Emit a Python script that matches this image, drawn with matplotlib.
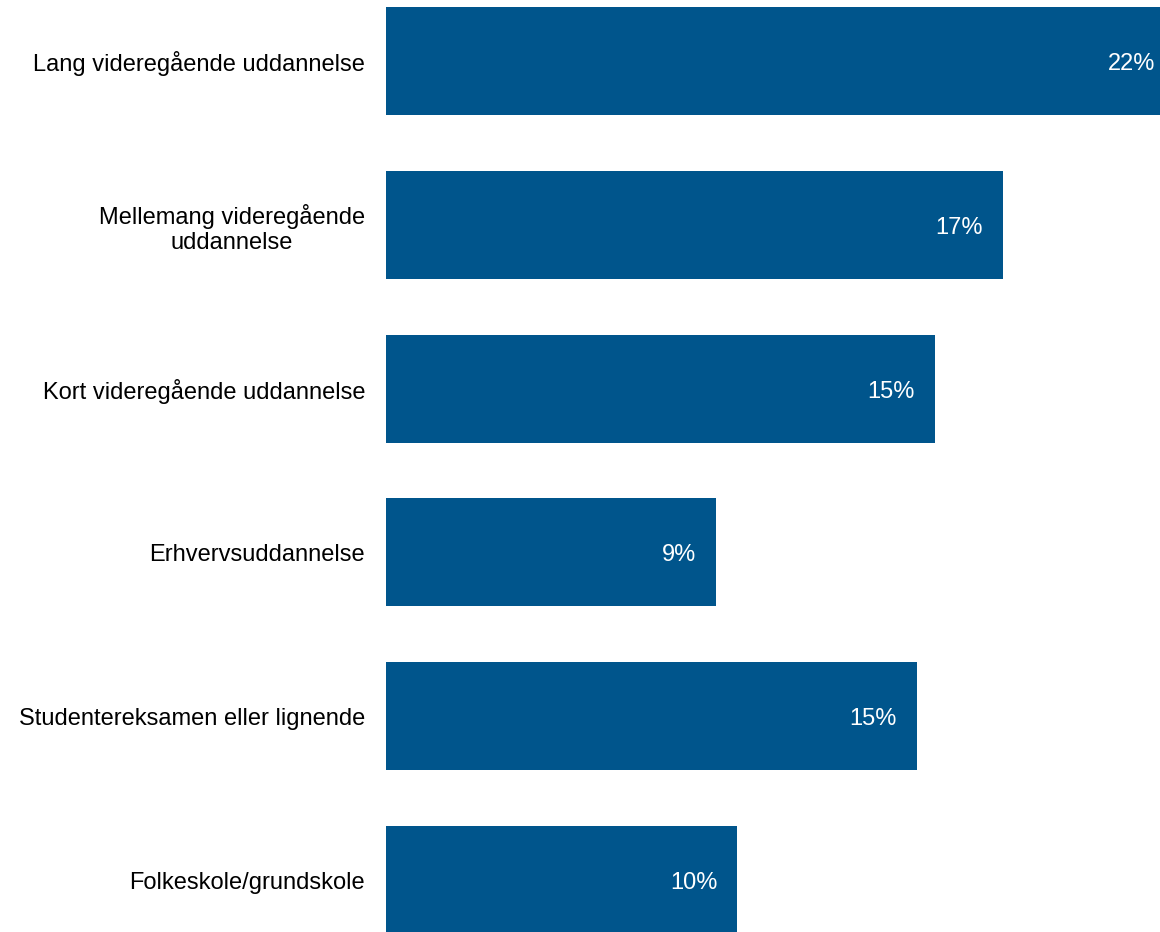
import matplotlib.pyplot as plt

plt.rcParams['font.family'] = ['Liberation Sans', 'DejaVu Sans']

# data, top to bottom
categories = [
    "Lang videregående uddannelse",
    "Mellemang videregående\nuddannelse",
    "Kort videregående uddannelse",
    "Erhvervsuddannelse",
    "Studentereksamen eller lignende",
    "Folkeskole/grundskole",
]
values = [22.0, 17.2, 15.3, 9.2, 14.8, 9.8]

bar_color = '#00558C'

fig = plt.figure(figsize=(11.6, 9.32), dpi=100)
ax = fig.add_axes([386 / 1160, 0, 1 - 386 / 1160, 1])

ypos = list(range(len(categories)))
bars = ax.barh(ypos, values, height=0.66, color=bar_color)

# value labels inside the bar end
for y, v in zip(ypos, values):
    ax.annotate(f"{round(v)}%", xy=(v, y), xytext=(-20, -3),
                textcoords='offset pixels', ha='right', va='center',
                color='white', fontsize=17, annotation_clip=False)

ax.set_yticks(ypos)
ax.set_yticklabels(categories, fontsize=17, multialignment='center')
ax.tick_params(axis='y', length=0, pad=15)
ax.set_xticks([])

ax.set_xlim(0, 21.58)
ax.set_ylim(5.317, -0.372)

for side in ['top', 'right', 'bottom', 'left']:
    ax.spines[side].set_visible(False)

fig.savefig('out.png', dpi=100)
